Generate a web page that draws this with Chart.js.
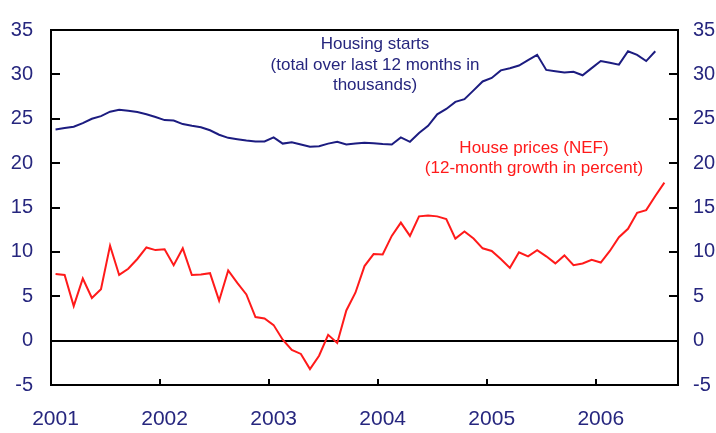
<!DOCTYPE html>
<html>
<head>
<meta charset="utf-8">
<script src="https://cdn.jsdelivr.net/npm/chart.js@4.4.1/dist/chart.umd.min.js"></script>
<style>
  html, body { margin: 0; padding: 0; background: #fff; }
  #wrap { width: 716px; height: 433px; position: relative; }
</style>
</head>
<body>
<div id="wrap"><canvas id="chart"></canvas></div>
<script>
// Year labels on the x axis, monthly data from Jan 2001
const years = ['2001', '2002', '2003', '2004', '2005', '2006'];
const monthCount = 69; // Jan 2001 .. Sep 2006

// Housing starts, total over last 12 months, thousands (Jan 2001 - Jul 2006)
const housingStarts = [
    23.8, 23.95, 24.1, 24.5, 25.0, 25.3, 25.8, 26.0, 25.9, 25.75, 25.5, 25.2,
    24.85, 24.8, 24.4, 24.2, 24.05, 23.7, 23.2, 22.85, 22.7, 22.55, 22.45, 22.45,
    22.9, 22.2, 22.35, 22.1, 21.85, 21.9, 22.2, 22.4, 22.1, 22.2, 22.3, 22.25,
    22.15, 22.1, 22.9, 22.4, 23.4, 24.2, 25.5, 26.1, 26.9, 27.2, 28.2, 29.2,
    29.6, 30.45, 30.7, 31.0, 31.6, 32.2, 30.5, 30.35, 30.2, 30.3, 29.9, 30.7,
    31.5, 31.3, 31.1, 32.6, 32.2, 31.5, 32.6
];

// House prices (NEF), 12-month growth in percent (Jan 2001 - Aug 2006)
const housePrices = [
    7.5, 7.4, 3.9, 7.0, 4.8, 5.8, 10.7, 7.4, 8.1, 9.2, 10.5, 10.2,
    10.3, 8.5, 10.4, 7.4, 7.45, 7.6, 4.5, 7.9, 6.5, 5.2, 2.65, 2.5,
    1.75, 0.1, -1.06, -1.5, -3.2, -1.7, 0.65, -0.26, 3.4, 5.4, 8.4, 9.75,
    9.7, 11.8, 13.3, 11.8, 14.0, 14.1, 14.0, 13.7, 11.5, 12.3, 11.5, 10.4,
    10.1, 9.2, 8.2, 9.95, 9.5, 10.2, 9.5, 8.7, 9.6, 8.5, 8.7, 9.1,
    8.8, 10.1, 11.65, 12.6, 14.4, 14.7, 16.3, 17.8
];

const navy = '#26267e';
const lineNavy = '#1c1c80';
const red = '#ff1a1a';
const font = 'Liberation Sans, Arial, sans-serif';

const labels = [];
for (let i = 0; i < monthCount; i++) {
    labels.push(years[Math.floor(i / 12)] + '-' + String(i % 12 + 1).padStart(2, '0'));
}

// frame, inward tick marks and the two text notes
const framePlugin = {
    id: 'frame',
    afterDraw(chart) {
        const ctx = chart.ctx;
        const a = chart.chartArea;
        const x = chart.scales.x;
        const yl = chart.scales.y;
        ctx.save();
        ctx.strokeStyle = '#000';
        ctx.lineWidth = 2;
        ctx.strokeRect(a.left, a.top, a.right - a.left, a.bottom - a.top);

        ctx.beginPath();
        yl.ticks.forEach(t => {
            const py = Math.round(yl.getPixelForValue(t.value));
            ctx.moveTo(a.left, py); ctx.lineTo(a.left + 9, py);
            ctx.moveTo(a.right, py); ctx.lineTo(a.right - 9, py);
        });
        for (let k = 1; k < years.length; k++) {
            const px = Math.round((x.getPixelForValue(12 * k) + x.getPixelForValue(12 * k - 1)) / 2);
            ctx.moveTo(px, a.bottom); ctx.lineTo(px, a.bottom - 6);
        }
        ctx.stroke();

        ctx.font = '17px ' + font;
        ctx.textAlign = 'center';
        ctx.textBaseline = 'middle';
        ctx.fillStyle = navy;
        ctx.fillText('Housing starts', 375, 44);
        ctx.fillText('(total over last 12 months in', 375, 65);
        ctx.fillText('thousands)', 375, 85);
        ctx.fillStyle = red;
        ctx.fillText('House prices (NEF)', 534, 148);
        ctx.fillText('(12-month growth in percent)', 534, 168);
        ctx.restore();
    }
};

const yTickOpts = {
    stepSize: 5,
    color: navy,
    font: { family: font, size: 20 }
};

new Chart(document.getElementById('chart'), {
    type: 'line',
    data: {
        labels: labels,
        datasets: [{
            label: 'Housing starts',
            data: housingStarts,
            borderColor: lineNavy,
            borderWidth: 2,
            pointRadius: 0,
            tension: 0
        }, {
            label: 'House prices',
            data: housePrices,
            borderColor: red,
            borderWidth: 2,
            pointRadius: 0,
            tension: 0
        }]
    },
    options: {
        responsive: true,
        maintainAspectRatio: false,
        animation: false,
        layout: { padding: { top: 19, left: 0, right: 0, bottom: 0 } },
        plugins: {
            legend: { display: false },
            tooltip: { enabled: false }
        },
        scales: {
            x: {
                type: 'category',
                offset: true,
                grid: { display: false },
                border: { display: false },
                ticks: {
                    autoSkip: false,
                    maxRotation: 0,
                    padding: 14,
                    color: navy,
                    font: { family: font, size: 21 },
                    callback: (v, i) => i % 12 === 0 ? years[i / 12] : null
                },
                afterFit: s => { s.height = 48; }
            },
            y: {
                position: 'left',
                min: -5,
                max: 35,
                ticks: Object.assign({ padding: 18 }, yTickOpts),
                grid: {
                    drawTicks: false,
                    color: c => c.tick && c.tick.value === 0 ? '#000' : 'rgba(0,0,0,0)',
                    lineWidth: 2
                },
                border: { display: false },
                afterFit: s => { s.width = 51; }
            },
            y2: {
                position: 'right',
                min: -5,
                max: 35,
                ticks: Object.assign({ padding: 15 }, yTickOpts),
                grid: { display: false, drawTicks: false },
                border: { display: false },
                afterFit: s => { s.width = 38; }
            }
        }
    },
    plugins: [framePlugin]
});
</script>
</body>
</html>
